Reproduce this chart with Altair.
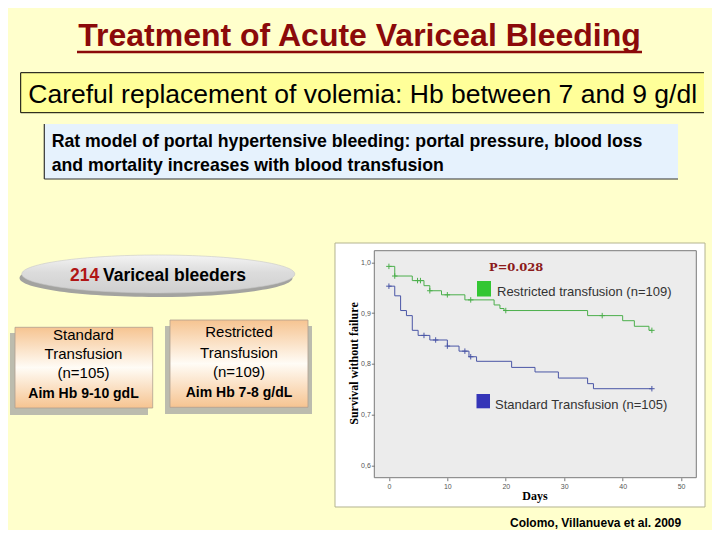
import altair as alt
import pandas as pd

# ---------------- data ----------------
groups = ["Restricted transfusion (n=109)", "Standard Transfusion (n=105)"]
restricted_days = [0, 1, 4, 6, 7, 9, 13, 18, 19, 19.7, 34, 40, 42, 44.5, 45]
restricted_surv = [0.992, 0.973, 0.964, 0.954, 0.944, 0.936, 0.926, 0.916, 0.909, 0.905,
                   0.895, 0.885, 0.874, 0.866, 0.866]
standard_days = [0, 1, 2, 3, 4, 5, 7, 10, 12, 13.7, 15, 21, 25, 29, 34, 35, 45]
standard_surv = [0.953, 0.934, 0.905, 0.895, 0.866, 0.856, 0.847, 0.835, 0.825, 0.814,
                 0.805, 0.793, 0.784, 0.772, 0.761, 0.751, 0.751]
restricted_cens_days = [0, 1, 4.9, 5.4, 7, 10, 14, 20, 36.5, 45]
restricted_cens_surv = [0.992, 0.973, 0.964, 0.964, 0.944, 0.936, 0.926, 0.905, 0.895, 0.866]
standard_cens_days = [0, 6, 8, 10, 13, 14, 45]
standard_cens_surv = [0.953, 0.856, 0.847, 0.835, 0.825, 0.814, 0.751]
x_ticks = [0, 10, 20, 30, 40, 50]
y_ticks = [0.6, 0.7, 0.8, 0.9, 1.0]

title_text = "Treatment of Acute Variceal Bleeding"
box2_text = "Careful replacement of volemia: Hb between 7 and 9 g/dl"
box3_lines = ["Rat model of portal hypertensive bleeding:  portal pressure, blood loss",
              "and mortality increases with blood transfusion"]
std_lines = ["Standard", "Transfusion", "(n=105)", "Aim Hb 9-10 gdL"]
res_lines = ["Restricted", "Transfusion", "(n=109)", "Aim Hb 7-8 g/dL"]
citation = "Colomo, Villanueva et al. 2009"

curves = pd.DataFrame({
    "day": restricted_days + standard_days,
    "surv": restricted_surv + standard_surv,
    "group": [groups[0]] * len(restricted_days) + [groups[1]] * len(standard_days),
})
cens = pd.DataFrame({
    "day": restricted_cens_days + standard_cens_days,
    "surv": restricted_cens_surv + standard_cens_surv,
    "group": [groups[0]] * len(restricted_cens_days) + [groups[1]] * len(standard_cens_days),
})

# ---------------- layout helpers ----------------
PX0, PY0 = 374.3, 250.7          # page position of plot origin
W, H = 322, 227
SANS = "Liberation Sans, Arial, sans-serif"
SERIF = "Liberation Serif, Times New Roman, serif"
GREEN, BLUE = "#4caf4c", "#4a56a6"
one = pd.DataFrame({"k": [0]})


def X(v):
    return v - PX0


def Y(v):
    return v - PY0


def rect(x1, y1, x2, y2, **kw):
    return alt.Chart(one).mark_rect(**kw).encode(
        x=alt.value(X(x1)), x2=alt.value(X(x2)), y=alt.value(Y(y1)), y2=alt.value(Y(y2)))


def hline(x1, x2, y, color="black", w=1):
    return alt.Chart(one).mark_rule(color=color, strokeWidth=w).encode(
        x=alt.value(X(x1)), x2=alt.value(X(x2)), y=alt.value(Y(y)))


def vline(x, y1, y2, color="black", w=1):
    return alt.Chart(one).mark_rule(color=color, strokeWidth=w).encode(
        x=alt.value(X(x)), y=alt.value(Y(y1)), y2=alt.value(Y(y2)))


def text(s, x, y, size, color="black", font=SANS, weight="normal", align="left",
         angle=0, baseline="alphabetic"):
    return alt.Chart(one).mark_text(
        text=s, fontSize=size, color=color, font=font, fontWeight=weight,
        align=align, baseline=baseline, angle=angle).encode(
        x=alt.value(X(x)), y=alt.value(Y(y)))


layers = []
# title
layers.append(text(title_text, 359.5, 46, 32, color="#8b0a0a", weight="bold", align="center"))
layers.append(hline(77, 642, 52, color="#8b0a0a", w=2.5))

# box 2
layers.append(rect(20.7, 72.7, 704, 112.7, fill="#ffff99"))
layers.append(hline(20.7, 704, 72.7))
layers.append(hline(20.7, 704, 112.7))
layers.append(vline(20.7, 72.7, 112.7))
layers.append(text(box2_text, 28.3, 102.5, 26.5))

# box 3
layers.append(rect(44.3, 124, 678, 179, fill="#e6f2fd"))
layers.append(hline(44.3, 678, 179, color="#333333", w=1.2))
layers.append(vline(44.3, 124, 179, color="#333333", w=1.2))
layers.append(text(box3_lines[0], 51.7, 147.3, 17.7, weight="bold"))
layers.append(text(box3_lines[1], 51.7, 170.5, 17.7, weight="bold"))

# ellipse
k, ry = 0.5523, 0.139
ell = (f"M1,0C1,{k*ry:.4f} {k},{ry} 0,{ry}C-{k},{ry} -1,{k*ry:.4f} -1,0"
       f"C-1,-{k*ry:.4f} -{k},-{ry} 0,-{ry}C{k},-{ry} 1,-{k*ry:.4f} 1,0Z")
ell_grad = alt.Gradient(gradient="linear", x1=0, x2=0, y1=0, y2=1, stops=[
    alt.GradientStop(color="#f4f4f4", offset=0),
    alt.GradientStop(color="#dcdcdc", offset=0.45),
    alt.GradientStop(color="#cfcfcf", offset=1)])
layers.append(alt.Chart(one).mark_point(shape=ell, size=273 ** 2, filled=True, fill="#a3a3a0",
                                        strokeWidth=0, opacity=1).encode(
    x=alt.value(X(156)), y=alt.value(Y(278))))
layers.append(alt.Chart(one).mark_point(shape=ell, size=273 ** 2, filled=True, fill=ell_grad,
                                        stroke="#c8c8c8", strokeWidth=0.6, opacity=1).encode(
    x=alt.value(X(158.3)), y=alt.value(Y(274))))
layers.append(text("214", 70, 280.7, 17.5, color="#b01515", weight="bold"))
layers.append(text("Variceal bleeders", 103, 280.7, 17.5, weight="bold"))

# treatment boxes
box_grad = alt.Gradient(gradient="linear", x1=0, x2=0, y1=0, y2=1, stops=[
    alt.GradientStop(color="#f6c491", offset=0),
    alt.GradientStop(color="#fffcf6", offset=0.5),
    alt.GradientStop(color="#f6c491", offset=1)])
layers.append(rect(10, 333, 148, 415, fill="#bcbcae"))
layers.append(rect(15, 327.3, 152.7, 408, fill=box_grad, stroke="#b0a090", strokeWidth=0.8))
layers.append(rect(165, 326, 312, 414, fill="#bcbcae"))
layers.append(rect(170, 320, 308, 407.3, fill=box_grad, stroke="#b0a090", strokeWidth=0.8))
for s, yy in zip(std_lines[:3], [340, 359.3, 378.3]):
    layers.append(text(s, 83.5, yy, 15, align="center", weight=500))
layers.append(text(std_lines[3], 83.5, 398.3, 14, weight="bold", align="center"))
for s, yy in zip(res_lines[:3], [337.3, 358, 376.7]):
    layers.append(text(s, 239, yy, 15, align="center", weight=500))
layers.append(text(res_lines[3], 239, 396.7, 14, weight="bold", align="center"))

# chart panel
layers.append(rect(335, 243, 705, 507, fill="white", stroke="#b4b490", strokeWidth=1))
layers.append(rect(PX0, PY0, PX0 + W, PY0 + H, fill="#ececec", stroke="#7a7a7a", strokeWidth=1))

xs = alt.Scale(domain=[-2.5, 52.6], nice=False, zero=False)
ys = alt.Scale(domain=[0.5757, 1.0229], nice=False, zero=False)
col = alt.Color("group:N", scale=alt.Scale(domain=groups, range=[GREEN, BLUE]), legend=None)
ax_common = dict(title=None, grid=False, domain=False, tickSize=3, tickColor="#777777",
                 labelFontSize=7, labelColor="#555555", labelFont=SANS, zindex=1)
km = alt.Chart(curves).mark_line(interpolate="step-after", strokeWidth=1).encode(
    x=alt.X("day:Q", scale=xs, axis=alt.Axis(values=x_ticks, labelPadding=2, **ax_common)),
    y=alt.Y("surv:Q", scale=ys, axis=alt.Axis(
        values=y_ticks, labelPadding=1,
        labelExpr="replace(format(datum.value, '.1f'), '.', ',')", **ax_common)),
    color=col)
layers.append(km)
plus = "M-1,0L1,0M0,-1L0,1"
layers.append(alt.Chart(cens).mark_point(shape=plus, size=30, filled=False, strokeWidth=1,
                                         opacity=1).encode(
    x=alt.X("day:Q", scale=xs), y=alt.Y("surv:Q", scale=ys), color=col))

# in-plot legend and annotations
layers.append(text("P=0.028", 489, 270.7, 11.5, color="#8b1a1a", font="DejaVu Serif", weight="bold"))
layers.append(rect(477, 281, 491, 296.5, fill="#33c633"))
layers.append(text(groups[0], 497, 295.5, 13, color="#333333"))
layers.append(rect(476.5, 394, 490, 408.3, fill="#3535b8"))
layers.append(text(groups[1], 495, 408.5, 13, color="#333333"))
layers.append(text("Survival without failure", 354.3, 363.5, 12, font=SERIF, weight="bold",
                   align="center", angle=270, baseline="middle"))
layers.append(text("Days", 535, 496, 12, font=SERIF, weight="bold", align="center",
                   baseline="middle"))

# citation
layers.append(text(citation, 510, 527, 12, weight="bold"))

chart = alt.layer(*layers).properties(
    width=W, height=H,
    autosize=alt.AutoSizeParams(type="none"),
    padding={"left": PX0 - 8, "top": PY0 - 8, "right": 704 - (PX0 - 8) - W,
             "bottom": 522 - (PY0 - 8) - H},
    background="#ffffcc",
).configure_view(stroke=None)

chart.save("out.html", embed_options={"renderer": "svg", "actions": False})
